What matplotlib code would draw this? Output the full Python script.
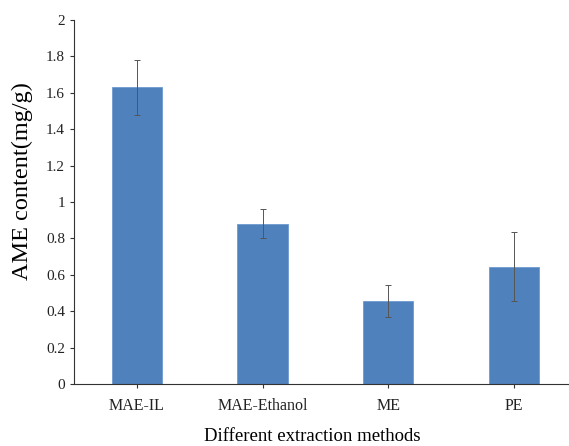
import numpy as np
import matplotlib
matplotlib.use('Agg')
from matplotlib import pyplot as plt

plt.rcParams['font.family'] = 'Liberation Serif'

# dati
metodi = ['MAE-IL', 'MAE-Ethanol', 'ME', 'PE']
contenuto = [1.63, 0.88, 0.456, 0.645]
errori = [0.15, 0.08, 0.09, 0.19]

fig = plt.figure(figsize=(5.69, 4.46), dpi=100)
ax = fig.add_axes([0.130, 0.139, 0.884, 0.816])

x = np.arange(len(metodi))
ax.bar(x, contenuto, width=0.4, color='#4f81bd', edgecolor='#6f9bd1', linewidth=0.6)
ax.errorbar(x, contenuto, yerr=errori, fmt='none', ecolor='#555555',
            elinewidth=0.7, capsize=2, capthick=0.7)

ax.set_xlim(-0.5, 3.5)
ax.set_ylim(0, 2)
ax.set_yticks(np.arange(0, 2.01, 0.2))
ax.set_yticklabels(['0', '0.2', '0.4', '0.6', '0.8', '1', '1.2', '1.4', '1.6', '1.8', '2'])
ax.set_xticks(x)
ax.set_xticklabels(metodi)

ax.spines['top'].set_visible(False)
ax.spines['right'].set_visible(False)
ax.spines['left'].set_color('#333333')
ax.spines['bottom'].set_color('#333333')
ax.tick_params(axis='both', direction='out', length=3, width=0.8, colors='#333333',
               labelcolor='#222222', labelsize=11)
ax.tick_params(axis='x', pad=7, labelsize=11.5)

ax.set_ylabel('AME content(mg/g)', fontsize=17.5)
ax.yaxis.set_label_coords(-0.082, 0.557)
fig.text(0.548, 0.040, 'Different extraction methods', fontsize=13.5, ha='center', va='top')

plt.savefig('out.png', dpi=100)
